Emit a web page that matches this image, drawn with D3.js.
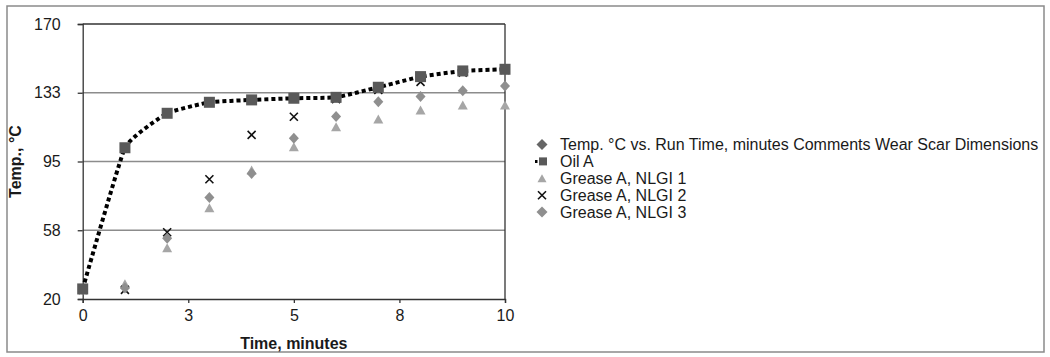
<!DOCTYPE html>
<html><head><meta charset="utf-8">
<script src="https://cdn.jsdelivr.net/npm/d3@7"></script>
<style>body{margin:0;background:#fff;} svg{display:block;font-family:"Liberation Sans",Arial,sans-serif;}</style>
</head><body>
<svg id="c" width="1050" height="357"></svg>
<script>
const times = [0,1,2,3,4,5,6,7,8,9,10];
const oilA = [25.5,102.5,121.3,127.3,128.6,129.5,130.0,135.5,141.3,144.4,145.3];
const nlgi1 = [25,28.3,48,69.8,90.4,103.1,114,118.2,123.1,125.8,125.8];
const nlgi2 = [25,25,56.4,85.3,109.5,119.4,129,134,138.4,143.5,145];
const nlgi3 = [25,26,53.1,75.3,88.5,107.7,119.5,127.6,130.4,133.6,136.2];
const yTicks = [20,57.5,95,132.5,170];
const yTickLabels = ["20","58","95","133","170"];
const xTicks = [0,2.5,5,7.5,10];
const xTickLabels = ["0","3","5","8","10"];
const legendLabels = ["Temp. °C vs. Run Time, minutes Comments Wear Scar Dimensions","Oil A","Grease A, NLGI 1","Grease A, NLGI 2","Grease A, NLGI 3"];

const svg = d3.select("#c");
const L=82.7,R=505,T=24,B=299;
const x = d3.scaleLinear().domain([0,10]).range([L,R]);
const y = d3.scaleLinear().domain([20,170]).range([B,T]);
const FS = 16;

svg.append("rect").attr("x",7).attr("y",6).attr("width",1037).attr("height",346)
  .attr("fill","#fff").attr("stroke","#8a8a8a").attr("stroke-width",1.5);

// gridlines
svg.append("g").selectAll("line").data(yTicks.slice(1,-1)).join("line")
  .attr("x1",L).attr("x2",R).attr("y1",d=>y(d)).attr("y2",d=>y(d))
  .attr("stroke","#8c8c8c").attr("stroke-width",1.5);
// frame top/right
svg.append("line").attr("x1",L).attr("x2",R).attr("y1",T).attr("y2",T).attr("stroke","#333").attr("stroke-width",1.3);
svg.append("line").attr("x1",R).attr("x2",R).attr("y1",T).attr("y2",B).attr("stroke","#333").attr("stroke-width",1.3);

// axes
const yAxis = d3.axisLeft(y).tickValues(yTicks).tickSize(5).tickPadding(17).tickFormat((d,i)=>yTickLabels[i]);
const gy = svg.append("g").attr("transform",`translate(${L},0)`).call(yAxis);
const xAxis = d3.axisBottom(x).tickValues(xTicks).tickSize(4).tickPadding(7).tickFormat((d,i)=>xTickLabels[i]);
const gx = svg.append("g").attr("transform",`translate(0,${B})`).call(xAxis);
[gy,gx].forEach(g=>{
  g.select(".domain").attr("stroke","#333").attr("stroke-width",1.3);
  g.selectAll(".tick line").attr("stroke","#333").attr("stroke-width",1.3);
  g.selectAll("text").attr("font-size",FS).attr("fill","#1a1a1a").attr("font-family","Liberation Sans, Arial, sans-serif");
});

svg.append("text").attr("x",(L+R)/2).attr("y",349).attr("text-anchor","middle")
  .attr("font-size",FS).attr("font-weight","bold").attr("fill","#1a1a1a").text("Time, minutes");
svg.append("text").attr("transform",`translate(21,${(T+B)/2}) rotate(-90)`).attr("text-anchor","middle")
  .attr("font-size",FS).attr("font-weight","bold").attr("fill","#1a1a1a").text("Temp., °C");

// symbols
const C_SQ="#595959", C_TRI="#a6a6a6", C_X="#111", C_DIA="#8f8f8f", C_DIA0="#666";
function diamond(g,cx,cy,w,h,c){g.append("path").attr("d",`M${cx},${cy-h/2}L${cx+w/2},${cy}L${cx},${cy+h/2}L${cx-w/2},${cy}Z`).attr("fill",c);}
function tri(g,cx,cy,w,h,c){g.append("path").attr("d",`M${cx},${cy-h/2}L${cx+w/2},${cy+h/2}L${cx-w/2},${cy+h/2}Z`).attr("fill",c);}
function cross(g,cx,cy,s,c){g.append("path").attr("d",`M${cx-s/2},${cy-s/2}L${cx+s/2},${cy+s/2}M${cx-s/2},${cy+s/2}L${cx+s/2},${cy-s/2}`).attr("stroke",c).attr("stroke-width",1.6);}
function square(g,cx,cy,s,c){g.append("rect").attr("x",cx-s/2).attr("y",cy-s/2).attr("width",s).attr("height",s).attr("fill",c);}

const pg = svg.append("g");
times.forEach((t,i)=>tri(pg,x(t),y(nlgi1[i]),10,9,C_TRI));
times.forEach((t,i)=>cross(pg,x(t),y(nlgi2[i]),8,C_X));
times.forEach((t,i)=>diamond(pg,x(t),y(nlgi3[i]),10,11,C_DIA));

const line = d3.line().x((d,i)=>x(times[i])).y(d=>y(d)).curve(d3.curveCardinal.tension(0.65));
svg.append("path").attr("d",line(oilA)).attr("fill","none").attr("stroke","#000")
  .attr("stroke-width",4).attr("stroke-dasharray","4,3");
const sg = svg.append("g");
times.forEach((t,i)=>square(sg,x(t),y(oilA[i]),11,C_SQ));

// legend
const lg = svg.append("g");
const ly0=144.5, ldy=16.9;
legendLabels.forEach((lab,i)=>{
  const cy = ly0+i*ldy, cx=542;
  if(i===0) diamond(lg,cx,cy,11,11,C_DIA0);
  if(i===1){ lg.append("line").attr("x1",cx-7).attr("x2",cx+4).attr("y1",cy).attr("y2",cy).attr("stroke","#000").attr("stroke-width",3).attr("stroke-dasharray","2.5,1.5"); square(lg,cx+1,cy,8,C_SQ);}
  if(i===2) tri(lg,cx,cy,9,8,C_TRI);
  if(i===3) cross(lg,cx,cy,8,C_X);
  if(i===4) diamond(lg,cx,cy,11,11,C_DIA);
  lg.append("text").attr("x",560).attr("y",cy+5.5).attr("font-size",FS).attr("fill","#1a1a1a").text(lab);
});
</script>
</body></html>
